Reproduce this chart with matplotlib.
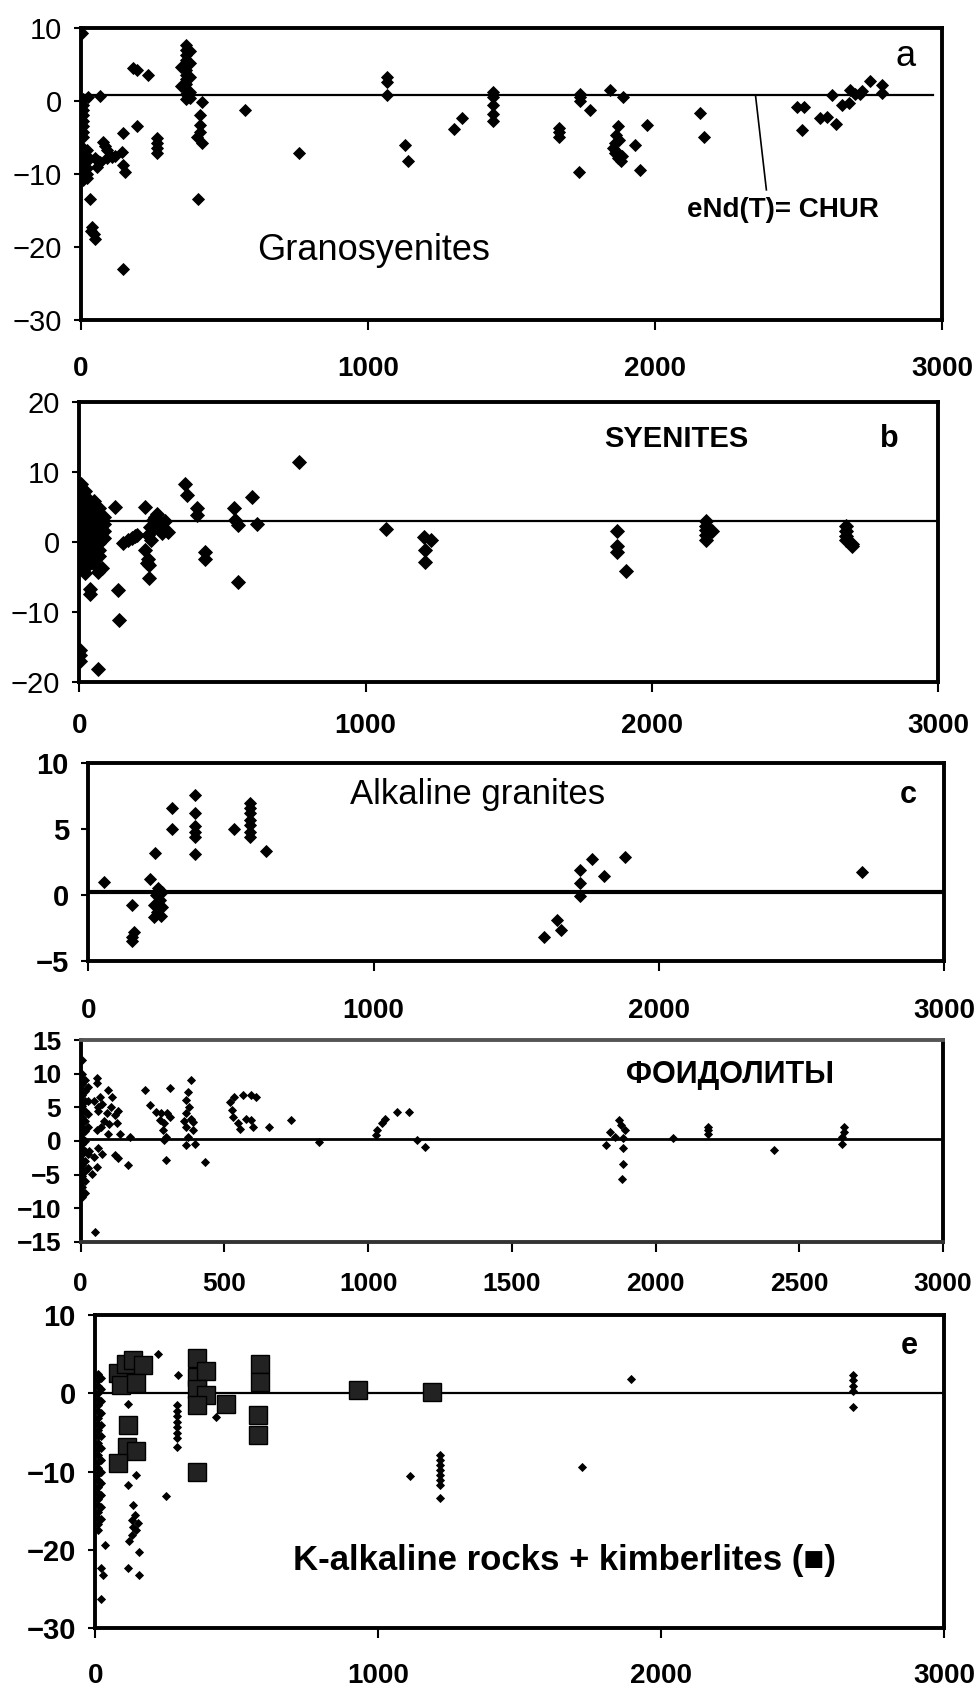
import matplotlib
matplotlib.use('Agg')
import matplotlib.pyplot as plt

plt.rcParams['font.family'] = ['Liberation Sans', 'DejaVu Sans']

# ---- data: age (Ma) vs eNd(T) ----
# a) granosyenites
gran_age = [5,
            8, 8, 8, 8, 8, 8, 8, 8, 8, 8, 8, 8, 8, 8, 8,
            20, 20, 20, 20, 20, 20,
            25, 66, 31, 40, 45, 50, 35,
            75, 85, 90, 49, 60, 66, 90, 107, 120, 55,
            148, 142, 148, 153, 148, 182, 195, 235, 194,
            264, 264, 264, 264,
            365, 365, 365, 365, 365, 365, 365, 365, 365, 365, 365, 365,
            380, 380, 380, 380, 380, 350, 350,
            421, 415, 415, 415, 405, 420, 409,
            572, 758, 1066, 1066, 1066, 1130, 1138, 1298, 1327,
            1437, 1437, 1437, 1437, 1437,
            1667, 1667, 1667, 1739, 1739, 1739, 1775, 1734, 1844, 1890,
            1870, 1865, 1860, 1855, 1860, 1870, 1880, 1885, 1875, 1865,
            1931, 1972, 1946, 2155, 2172,
            2495, 2518, 2513, 2576, 2599, 2632, 2617, 2652, 2675,
            2680, 2698, 2715, 2721, 2748, 2791, 2791]
gran_end = [9.3,
            0.3, -0.5, -1.2, -2.0, -2.8, -3.5, -4.3, -5.0, -6.5, -7.3, -8.0, -8.8, -9.5, -10.2, -10.8,
            -6.8, -7.5, -8.3, -9.2, -10.0, -10.6,
            0.5, 0.7, -13.4, -17.3, -18.2, -18.9, -17.8,
            -5.6, -6.2, -6.8, -7.9, -8.3, -8.4, -7.9, -7.7, -7.6, -9.0,
            -4.4, -7.0, -8.8, -9.7, -23.0, 4.5, 4.2, 3.6, -3.5,
            -5.1, -5.8, -6.5, -7.2,
            7.7, 7.0, 6.3, 5.6, 4.9, 4.3, 3.6, 3.0, 2.3, 1.6, 0.9, 0.2,
            6.8, 5.2, 3.3, 1.2, 0.4, 4.6, 2.0,
            -0.1, -2.0, -3.3, -4.2, -5.0, -5.8, -13.4,
            -1.2, -7.2, 3.3, 2.6, 0.8, -6.0, -8.3, -3.8, -2.4,
            1.2, 0.6, -0.6, -1.8, -2.7,
            -3.7, -4.3, -5.0, 1.0, 0.5, 0.0, -1.2, -9.7, 1.5, 0.5,
            -3.5, -4.7, -5.8, -6.5, -7.2, -7.9, -8.3, -7.6, -5.3, -6.9,
            -6.1, -3.3, -9.5, -1.6, -4.9,
            -0.8, -0.8, -4.0, -2.4, -2.2, -3.1, 0.8, -0.5, -0.3,
            1.5, 1.0, 1.0, 1.3, 2.7, 2.2, 1.1]

# b) syenites
sy_age = [5] * 18 + [20] * 13 + [35] * 10 + [50] * 12 + [70] * 8 + [85] * 4 + \
         [66, 80, 37, 37, 3, 3, 3, 66, 125, 136, 140,
          154, 170, 183, 201, 195, 230,
          270, 258, 247, 282, 288, 240, 231, 240, 245, 235, 245, 265, 275, 260, 250, 300, 311,
          370, 376, 411, 411, 440, 440, 539, 545, 556, 556, 603, 620, 766, 1070,
          1204, 1227, 1206, 1206, 1877, 1877, 1877, 1910,
          2190, 2190, 2190, 2190, 2190, 2210,
          2680, 2680, 2680, 2680, 2700, 2700]
sy_end = [8.2, 7.5, 6.8, 6.1, 5.4, 4.7, 4.0, 3.3, 2.6, 1.9, 1.2, 0.5, -0.2, -0.9, -1.6, -2.3, -3.0, -3.7,
          7.2, 6.2, 5.2, 4.2, 3.2, 2.2, 1.2, 0.2, -0.8, -1.8, -2.8, -3.8, -4.5,
          6.0, 5.0, 4.0, 3.0, 2.0, 1.0, 0.0, -1.0, -2.0, -3.0,
          5.8, 5.0, 4.2, 3.4, 2.6, 1.8, 1.0, 0.2, -0.6, -1.4, -2.2, -3.2,
          4.8, 3.8, 2.8, 1.8, 0.8, -0.2, -1.2, -2.0,
          3.5, 2.5, 1.5, 0.5,
          -4.3, -3.8, -6.7, -7.4, -15.5, -16.2, -17.0, -18.1, 5.0, -6.9, -11.2,
          -0.2, 0.2, 0.5, 1.0, 0.8, 5.0,
          4.0, 3.1, 2.1, 2.4, 1.2, 1.0, -1.2, -2.4, -3.3, -3.0, -5.2, 3.5, 2.8, 2.0, 0.2, 3.0, 1.4,
          8.3, 6.7, 4.8, 3.8, -1.4, -2.4, 4.8, 3.1, 2.4, -5.7, 6.4, 2.6, 11.4, 1.8,
          0.7, 0.3, -1.2, -2.9, 1.6, -0.6, -1.5, -4.1,
          3.0, 2.3, 1.7, 1.0, 0.3, 1.5,
          2.3, 1.5, 0.8, 0.2, -0.3, -0.6]

# c) alkaline granites
alk_age = [56, 154, 154, 160, 152, 217, 233,
           245, 237, 252, 232, 258, 240, 255, 232, 260,
           292, 292, 373, 373, 373, 373, 373, 373, 509,
           568, 568, 568, 568, 568, 568, 568, 624,
           1599, 1644, 1657, 1723, 1723, 1723, 1767, 1808, 1883, 2711]
alk_end = [1.0, -0.8, -3.2, -2.8, -3.5, 1.2, 3.2,
           0.5, 0.0, -0.4, -0.8, -0.9, -1.3, -1.6, -1.7, 0.2,
           6.6, 5.0, 7.6, 6.2, 5.2, 4.8, 4.4, 3.1, 5.0,
           7.0, 6.6, 6.2, 5.7, 5.3, 4.8, 4.4, 3.3,
           -3.2, -1.9, -2.7, 1.9, 0.9, -0.1, 2.7, 1.4, 2.9, 1.7]

# d) foidolites
foid_age = [5] * 25 + [15] * 12 + [25] * 6 + \
           [55, 55, 67, 60, 55, 96,
            45, 60, 75, 90, 105, 120, 80, 100, 70, 110, 130, 95,
            125, 136, 119, 130, 171, 165, 50, 45, 58, 40, 75, 30, 60,
            223, 240, 263, 280, 300, 275, 290, 285, 295, 290, 310, 309, 296,
            385, 373, 367, 378, 367, 385, 367, 390, 373, 396, 367, 390, 360, 434,
            518, 535, 565, 594, 525, 530, 547, 576, 594, 600, 553, 610,
            656, 731, 829, 1031, 1026, 1049, 1060, 1100, 1141, 1170, 1199,
            1874, 1840, 1892, 1886, 1859, 1829, 1886, 1886, 1884, 1880,
            2059, 2181, 2181, 2181, 2411, 2654, 2654, 2650, 2650]
foid_end = [12.0, 10.0, 9.2, 8.4, 7.6, 6.8, 6.0, 5.2, 4.4, 3.6, 2.8, 2.0, 1.2, 0.4, -0.4,
            -1.2, -2.0, -2.8, -3.6, -4.4, -5.2, -6.0, -6.8, -7.6, -8.4,
            9.0, 7.5, 6.0, 4.5, 3.0, 1.5, 0.0, -1.5, -3.0, -4.5, -6.0, -7.8,
            8.0, 6.0, 4.0, 2.0, -2.0, -4.0,
            9.3, 8.6, 6.6, 5.1, 1.6, 7.6,
            6.0, 4.5, 5.5, 4.2, 5.0, 3.8, 3.0, 2.5, 2.0, 6.5, 4.5, 1.0,
            2.6, 1.1, -2.1, -2.6, 0.6, -3.6, -13.5, -2.4, -3.9, -4.9, -1.9, -1.5, -1.0,
            7.6, 5.3, 4.3, 4.1, 4.1, 3.1, 2.6, 1.6, 0.6, 0.1, 3.5, 7.8, -2.9,
            9.0, 7.3, 6.1, 5.1, 4.1, 3.3, 2.1, 1.6, 0.6, -0.4, -0.6, 2.8, 3.0, -3.1,
            5.8, 6.6, 6.8, 6.8, 4.6, 3.6, 2.6, 3.3, 3.1, 2.1, 1.8, 6.5,
            2.1, 3.1, -0.1, 1.6, 0.9, 2.6, 3.3, 4.3, 4.3, 0.1, -0.9,
            3.1, 1.4, 1.6, 0.4, 0.6, -0.6, -1.1, -3.4, -5.6, 2.3,
            0.4, 1.6, 1.1, 2.1, -1.4, 2.1, 1.4, 0.6, -0.4]

# e) K-alkaline rocks (diamonds) and kimberlites (squares)
kalk_age = [8] * 26 + [20] * 13 + \
           [33, 21, 28, 21, 221, 115, 291,
            288, 288, 288, 288, 288, 288, 288, 288, 426,
            144, 115, 250, 135, 140, 130, 150, 135, 145, 130, 121, 156, 115, 156,
            1111, 1217, 1217, 1217, 1217, 1217, 1217, 1217, 1217,
            1894, 1719, 2680, 2680, 2680, 2680, 2680]
kalk_end = [2.5, 1.7, 0.9, 0.1, -0.7, -1.5, -2.3, -3.1, -3.9, -4.7, -5.5, -6.3, -7.1,
            -7.9, -8.7, -9.5, -10.3, -11.1, -11.9, -12.7, -13.5, -14.3, -15.1, -15.9, -16.7, -17.5,
            2.0, 0.5, -1.0, -2.5, -4.0, -5.5, -7.0, -8.5, -10.0, -11.5, -13.0, -14.5, -16.0,
            -19.4, -22.3, -23.2, -26.2, 5.0, -1.3, 2.3,
            -1.5, -2.2, -2.9, -3.6, -4.3, -5.0, -5.7, -6.9, -3.0,
            -10.4, -11.7, -13.1, -14.3, -15.5, -16.2, -16.6, -17.1, -17.5, -18.1, -18.9, -20.2, -22.3, -23.2,
            -10.5, -7.9, -8.5, -9.1, -9.8, -10.4, -11.1, -11.7, -13.4,
            1.8, -9.4, 2.3, 1.7, 1.0, 0.3, -1.7]
kimb_age = [80, 109, 133, 168, 92, 144, 115, 113, 144, 80,
            361, 361, 390, 361, 390, 361, 461, 361,
            581, 581, 574, 574, 930, 1191]
kimb_end = [2.6, 3.8, 4.3, 3.6, 1.1, 1.3, -4.0, -6.8, -7.4, -8.9,
            4.5, 2.1, 2.8, 0.6, -0.2, -1.5, -1.3, -10.0,
            3.8, 1.5, -2.8, -5.3, 0.4, 0.2]

# CHUR reference levels per panel
chur = [0.8, 3.0, 0.2, 0.3, 0.0]
chur_leader_x = [2350, 2388]
chur_leader_y = [0.8, -12.2]

fig = plt.figure(figsize=(9.76, 16.89), dpi=100)

# [left, bottom, width, height] in figure fraction
rects = [[0.0830, 0.8108, 0.8822, 0.1726],
         [0.0813, 0.5962, 0.8798, 0.1660],
         [0.0905, 0.4313, 0.8767, 0.1168],
         [0.0827, 0.2648, 0.8835, 0.1194],
         [0.0976, 0.0359, 0.8696, 0.1855]]
yranges = [(-30, 10), (-20, 20), (-5, 10), (-15, 15), (-30, 10)]
ysteps = [10, 10, 5, 5, 10]
xpads = [19, 15, 20, 15, 18]
ysizes = [21, 21, 21, 19, 21]

axes = []
for i, r in enumerate(rects):
    ax = fig.add_axes(r)
    lo, hi = yranges[i]
    ax.set_xlim(0, 3000)
    ax.set_ylim(lo, hi)
    ax.set_yticks(list(range(lo, hi + 1, ysteps[i])))
    ax.set_xticks(list(range(0, 3001, 500 if i == 3 else 1000)))
    for s in ax.spines.values():
        s.set_linewidth(2.8)
    ax.tick_params(axis='x', direction='out', length=7, width=1.5, pad=xpads[i],
                   labelsize=20 if i != 3 else 19)
    ax.tick_params(axis='y', direction='out', length=5, width=1.5, pad=9,
                   labelsize=ysizes[i])
    for lab in ax.get_xticklabels():
        lab.set_fontweight('bold')
    if i >= 2:
        for lab in ax.get_yticklabels():
            lab.set_fontweight('bold')
    axes.append(ax)

axes[3].spines['top'].set_color('#555555')
axes[3].spines['bottom'].set_color('#333333')

dkw = dict(marker='D', color='black', linestyle='none', mew=0.6)

# a
ax = axes[0]
ax.axhline(chur[0], xmax=0.99, color='black', lw=1.6)
ax.plot(gran_age, gran_end, ms=6.5, **dkw)
ax.plot(chur_leader_x, chur_leader_y, color='black', lw=1.2)
ax.text(2111, -15.0, 'eNd(T)= CHUR', fontsize=20, fontweight='bold', va='center')
ax.text(612, -20.5, 'Granosyenites', fontsize=26, va='center')
ax.text(2872, 6.1, 'a', fontsize=26, ha='center', va='center')

# b
ax = axes[1]
ax.axhline(chur[1], color='black', lw=1.6)
ax.plot(sy_age, sy_end, ms=7.5, **dkw)
ax.text(1833, 14.7, 'SYENITES', fontsize=21, fontweight='bold', va='center')
ax.text(2829, 14.7, 'b', fontsize=22, fontweight='bold', ha='center', va='center')

# c
ax = axes[2]
ax.axhline(chur[2], color='black', lw=3)
ax.plot(alk_age, alk_end, ms=6.5, **dkw)
ax.text(918, 7.6, 'Alkaline granites', fontsize=25, va='center')
ax.text(2875, 7.6, 'c', fontsize=22, fontweight='bold', ha='center', va='center')

# d
ax = axes[3]
ax.axhline(chur[3], color='black', lw=2)
ax.plot(foid_age, foid_end, ms=4.5, **dkw)
ax.text(1897, 9.8, 'ФОИДОЛИТЫ', fontsize=22, fontweight='bold', va='center')

# e
ax = axes[4]
ax.axhline(chur[4], color='black', lw=1.6)
ax.plot(kalk_age, kalk_end, ms=4.5, **dkw)
ax.plot(kimb_age, kimb_end, marker='s', ms=13, color='#222222', mec='black',
        mew=1, linestyle='none')
ax.text(699, -21.3, 'K-alkaline rocks + kimberlites (■)', fontsize=25,
        fontweight='bold', va='center', family=['Liberation Sans', 'DejaVu Sans'])
ax.text(2876, 6.0, 'e', fontsize=22, fontweight='bold', ha='center', va='center')

fig.savefig('out.png', dpi=100)
